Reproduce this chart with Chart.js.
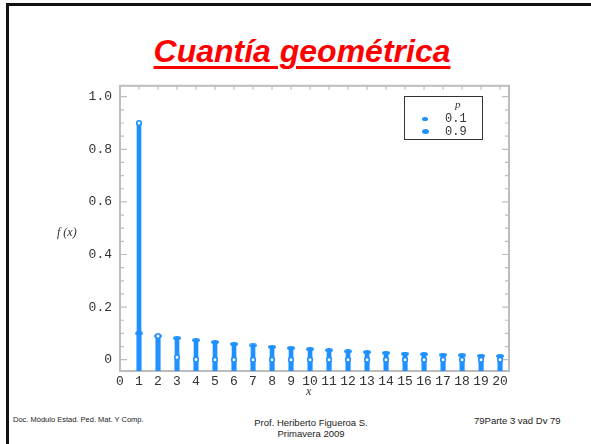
<!DOCTYPE html>
<html>
<head>
<meta charset="utf-8">
<script src="https://cdn.jsdelivr.net/npm/chart.js@4/dist/chart.umd.min.js"></script>
<style>
  html, body { margin: 0; padding: 0; background: #fff; }
  body { width: 591px; height: 444px; position: relative; overflow: hidden; font-family: "Liberation Sans", Arial, sans-serif; }
  .frame { position: absolute; left: 6px; top: 3px; width: 700px; height: 600px; border-left: 3px solid #111; border-top: 3px solid #111; }
  .title { position: absolute; left: 0; width: 604px; top: 33px; line-height: 36px; text-align: center;
           font: italic bold 32px "Liberation Sans", Arial, sans-serif; color: #ff0000;
           text-decoration: underline; text-decoration-thickness: 3px; text-underline-offset: 4px; }
  #wrap { position: absolute; left: 40px; top: 70px; width: 490px; height: 330px; }
  .ylab { position: absolute; left: 57px; top: 225px; font: italic 12px "Liberation Serif", serif; color: #333; }
  .xlab { position: absolute; left: 306px; top: 384px; font: italic 12px "Liberation Serif", serif; color: #333; }
  .legend { position: absolute; left: 404px; top: 96px; width: 77px; height: 42px; border: 1.5px solid #333; }
  .legend .p { position: absolute; left: 50px; top: 1px; font: italic 11px "Liberation Serif", serif; color: #333; }
  .legend .row { position: absolute; left: 40px; font: 12px "Liberation Mono", monospace; color: #333; line-height: 12px; }
  .legend .dot { position: absolute; background: #1e90ff; border-radius: 50%; }
  .foot { position: absolute; color: #222; white-space: nowrap; }
</style>
</head>
<body>
<div class="frame"></div>
<div class="title">Cuantía geométrica</div>
<div id="wrap"><canvas id="chart"></canvas></div>
<div class="ylab">f (x)</div>
<div class="xlab">x</div>
<div class="legend">
  <div class="p">p</div>
  <div class="dot" style="left:17px; top:20px; width:6px; height:4px;"></div>
  <div class="row" style="top:16px;">0.1</div>
  <div class="dot" style="left:17px; top:32px; width:7px; height:5px;"></div>
  <div class="row" style="top:29px;">0.9</div>
</div>
<div class="foot" style="left:13px; top:415px; font-size:7.5px;">Doc. Módulo Estad. Ped. Mat. Y Comp.</div>
<div class="foot" style="left:211px; width:200px; text-align:center; top:417px; font-size:9.5px; line-height:11px;">Prof. Heriberto Figueroa S.<br>Primavera 2009</div>
<div class="foot" style="left:474px; top:415px; font-size:9.5px;">79Parte 3 vad Dv 79</div>

<script>
const xValues = [1, 2, 3, 4, 5, 6, 7, 8, 9, 10, 11, 12, 13, 14, 15, 16, 17, 18, 19, 20];
const p01 = [0.100, 0.090, 0.082, 0.074, 0.067, 0.060, 0.054, 0.049, 0.044, 0.040,
             0.036, 0.032, 0.029, 0.026, 0.023, 0.021, 0.019, 0.017, 0.015, 0.014];
const p09 = [0.900, 0.090, 0.009, 0.001, 0, 0, 0, 0, 0, 0,
             0, 0, 0, 0, 0, 0, 0, 0, 0, 0];
const seriesLabels = ['0.1', '0.9'];
const xTicks = [0, 1, 2, 3, 4, 5, 6, 7, 8, 9, 10, 11, 12, 13, 14, 15, 16, 17, 18, 19, 20];
const yTicks = [0, 0.2, 0.4, 0.6, 0.8, 1.0];

const blue = '#1e90ff';
const yMin = -0.043, yMax = 1.0415;

// flat cap used for the p = 0.1 points
const cap = document.createElement('canvas');
cap.width = 8; cap.height = 4;
const cc = cap.getContext('2d');
cc.fillStyle = blue;
cc.beginPath();
cc.ellipse(4, 2, 4, 2, 0, 0, Math.PI * 2);
cc.fill();

const stems = vals => vals.map((v, i) => ({ x: xValues[i], y: [yMin, v] }));
const points = vals => vals.map((v, i) => ({ x: xValues[i], y: v }));

// gray box with inward ticks, like the original plot frame
const frameTicks = {
  id: 'frameTicks',
  beforeDatasetsDraw(chart) {
    const { ctx, chartArea: a, scales: { x, y } } = chart;
    ctx.save();
    ctx.strokeStyle = '#bdbdbd';
    ctx.lineWidth = 2;
    ctx.strokeRect(a.left, a.top, a.right - a.left, a.bottom - a.top);
    ctx.lineWidth = 1.2;
    ctx.beginPath();
    for (let k = 0; k <= 20; k++) {
      const py = y.getPixelForValue(k * 0.05);
      const len = k % 4 === 0 ? 7 : 4;
      ctx.moveTo(a.left, py); ctx.lineTo(a.left + len, py);
      ctx.moveTo(a.right, py); ctx.lineTo(a.right - len, py);
    }
    xTicks.forEach(v => {
      if (v === 0) return;
      const px = x.getPixelForValue(v);
      ctx.moveTo(px, a.top); ctx.lineTo(px, a.top + 4);
    });
    ctx.stroke();
    ctx.restore();
  }
};

new Chart(document.getElementById('chart'), {
  type: 'bar',
  data: {
    datasets: [
      { type: 'line', label: seriesLabels[1], data: points(p09), showLine: false,
        pointStyle: 'circle', pointRadius: 2.3, pointBackgroundColor: '#fff',
        pointBorderColor: blue, pointBorderWidth: 1.6, order: 1 },
      { type: 'line', label: seriesLabels[0], data: points(p01), showLine: false,
        pointStyle: cap, order: 2 },
      { label: seriesLabels[1], data: stems(p09), backgroundColor: blue,
        barThickness: 4, grouped: false, order: 3 },
      { label: seriesLabels[0], data: stems(p01), backgroundColor: blue,
        barThickness: 4, grouped: false, order: 3 }
    ]
  },
  options: {
    responsive: true,
    maintainAspectRatio: false,
    animation: false,
    layout: { padding: { left: 0, right: 21, top: 6, bottom: 0 } },
    plugins: { legend: { display: false }, tooltip: { enabled: false } },
    scales: {
      x: {
        type: 'linear', min: 0, max: 20.47, offset: false,
        grid: { display: false, drawTicks: false }, border: { display: false },
        afterBuildTicks: s => { s.ticks = xTicks.map(v => ({ value: v })); },
        afterFit: s => { s.height = 29; },
        ticks: { autoSkip: false, maxRotation: 0, minRotation: 0, padding: 3, color: '#333',
                 font: { family: 'Liberation Mono', size: 13 }, callback: v => String(v) }
      },
      y: {
        min: yMin, max: yMax,
        grid: { display: false, drawTicks: false }, border: { display: false },
        afterBuildTicks: s => { s.ticks = yTicks.map(v => ({ value: v })); },
        afterFit: s => { s.width = 80; },
        ticks: { padding: 8, color: '#333', font: { family: 'Liberation Mono', size: 13 },
                 callback: v => (v === 0 ? '0' : v.toFixed(1)) }
      }
    }
  },
  plugins: [frameTicks]
});
</script>
</body>
</html>
